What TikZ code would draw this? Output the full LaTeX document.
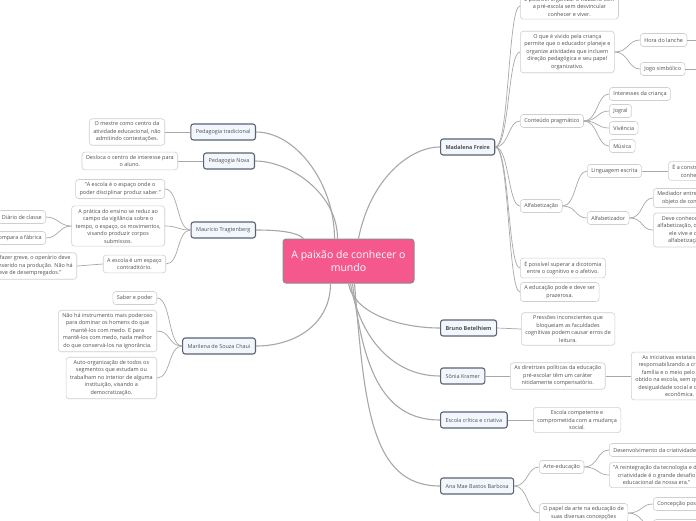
\documentclass[tikz,border=0pt]{standalone}
\usepackage{fontspec}
\setmainfont{Open Sans}
\definecolor{lvborder}{HTML}{5C6370}
\definecolor{lvfill}{HTML}{F2F6FD}
\definecolor{leafborder}{HTML}{CFCFCF}
\definecolor{linkgray}{HTML}{A8A8A8}
\definecolor{txtgray}{HTML}{4F4F4F}
\definecolor{centerfill}{HTML}{F4588C}
\definecolor{centerborder}{HTML}{8C8C8C}
\newcommand\smallfs{\fontsize{5.45}{7.5}\selectfont}
\tikzset{
  lvone/.style={draw=lvborder, fill=lvfill, line width=1.1pt, rounded corners=2.5pt,
    minimum height=16, inner xsep=5, inner ysep=2, font=\smallfs, text=txtgray},
  leaf/.style={draw=leafborder, fill=white, line width=0.6pt, rounded corners=3pt,
    minimum height=13, inner xsep=4, inner ysep=3, align=center, font=\smallfs, text=txtgray},
  link/.style={draw=linkgray, line width=0.7pt},
  clink/.style={draw=linkgray, line width=1.1pt},
}
\begin{document}
\begin{tikzpicture}[x=1pt,y=-1pt]
\useasboundingbox (0,0) rectangle (696,520);
\clip (0,0) rectangle (696,520);
\fill[white] (0,0) rectangle (696,520);

% central
\node[draw=centerborder, fill=centerfill, line width=1pt, rounded corners=3pt,
  minimum width=131, minimum height=44, align=center, text=white,
  font=\fontsize{10.5}{13}\selectfont] (c) at (348.5,261) {A paixão de conhecer o\\mundo};

% left level one
\node[lvone, anchor=east] (pt) at (256,132) {Pedagogia tradicional};
\node[lvone, anchor=east] (pn) at (255,161) {Pedagogia Nova};
\node[lvone, anchor=east] (mt) at (256,230) {Mauricio Tragtenberg};
\node[lvone, anchor=east] (ms) at (256,346) {Marilena de Souza Chaui};

% left leaves
\node[leaf, anchor=east] (pt1) at (165,132) {O mestre como centro da\\atividade educacional, não\\admitindo contestações.};
\node[leaf, anchor=east] (pn1) at (178,161) {Desloca o centro de interesse para\\o aluno.};
\node[leaf, anchor=east] (mt1) at (165,189) {"A escola é o espaço onde o\\poder disciplinar produz saber."};
\node[leaf, anchor=east] (mt2) at (165,226) {A prática do ensino se reduz ao\\campo da vigilância sobre o\\tempo, o espaço, os movimentos,\\visando produzir corpos\\submissos.};
\node[leaf, anchor=east] (mt3) at (166,264) {A escola é um espaço\\contraditório.};
\node[leaf, anchor=east] (mt21) at (46,217) {Diário de classe};
\node[leaf, anchor=east] (mt22) at (46,238) {Compara a fábrica};
\node[leaf, anchor=east] (mt31) at (77,266) {"Para fazer greve, o operário deve\\estar inserido na produção. Não há\\greve de desempregados."};
\node[leaf, anchor=east] (ms1) at (157,298) {Saber e poder};
\node[leaf, anchor=east] (ms2) at (157,331) {Não há instrumento mais poderoso\\para dominar os homens do que\\mantê-los com medo. E para\\mantê-los com medo, nada melhor\\do que conservá-los na ignorância.};
\node[leaf, anchor=east] (ms3) at (157,378) {Auto-organização de todos os\\segmentos que estudam ou\\trabalham no interior de alguma\\instituição, visando a\\democratização.};

% right level one
\node[lvone, anchor=west, font=\smallfs\bfseries] (mf) at (440,147) {Madalena Freire};
\node[lvone, anchor=west, font=\smallfs\bfseries] (bb) at (440,328) {Bruno Betelhiem};
\node[lvone, anchor=west] (sk) at (440,376) {Sônia Kramer};
\node[lvone, anchor=west] (ec) at (440,420) {Escola crítica e criativa};
\node[lvone, anchor=west] (am) at (440,486) {Ana Mae Bastos Barbosa};

% right leaves
\node[leaf, anchor=west] (mf1) at (520,6) {É possível organizar o trabalho com\\a pré-escola sem desvincular\\conhecer e viver.};
\node[leaf, anchor=west] (mf2) at (520,52) {O que é vivido pela criança\\permite que o educador planeje e\\organize atividades que incluem\\direção pedagógica e seu papel\\organizativo.};
\node[leaf, anchor=west] (mf21) at (640,40) {Hora do lanche};
\node[leaf, anchor=west] (mf22) at (640,69) {Jogo simbólico};
\coordinate (mf21x) at (720,40);
\coordinate (mf22x) at (720,69);
\node[leaf, anchor=west] (mf3) at (520,121) {Conteúdo pragmático};
\node[leaf, anchor=west] (mf31) at (609,94) {Interesses da criança};
\node[leaf, anchor=west] (mf32) at (609,111) {Jogral};
\node[leaf, anchor=west] (mf33) at (609,128) {Vivência};
\node[leaf, anchor=west] (mf34) at (609,146) {Música};
\node[leaf, anchor=west] (mf4) at (520,206) {Alfabetização};
\node[leaf, anchor=west] (mf41) at (587,171) {Linguagem escrita};
\node[leaf, anchor=west] (mf411) at (668,171) {É a construção de um\\conhecimento.};
\node[leaf, anchor=west] (mf42) at (587,218) {Alfabetizador};
\node[leaf, anchor=west] (mf421) at (653,198) {Mediador entre a criança e o\\objeto de conhecimento.};
\node[leaf, anchor=west] (mf422) at (653,230) {Deve conhecer o processo de\\alfabetização, o contexto em que\\ele vive e o processo de\\alfabetização da criança.};
\node[leaf, anchor=west] (mf5) at (520,268) {É possível superar a dicotomia\\entre o cognitivo e o afetivo.};
\node[leaf, anchor=west] (mf6) at (520,292) {A educação pode e deve ser\\prazerosa.};
\node[leaf, anchor=west] (bb1) at (521,329) {Pressões inconscientes que\\bloqueiam as faculdades\\cognitivas podem causar erros de\\leitura.};
\node[leaf, anchor=west] (sk1) at (510,376) {As diretrizes políticas da educação\\pré-escolar têm um caráter\\nitidamente compensatório.};
\node[leaf, anchor=west] (sk11) at (631,376) {As iniciativas estatais acabam\\responsabilizando a criança, sua\\família e o meio pelo fracasso\\obtido na escola, sem questionar a\\desigualdade social e cultural da\\econômica.};
\node[leaf, anchor=west] (ec1) at (533,420) {Escola competente e\\comprometida com a mudança\\social.};
\node[leaf, anchor=west] (am1) at (539,467) {Arte-educação};
\node[leaf, anchor=west] (am11) at (609,450) {Desenvolvimento da criatividade};
\node[leaf, anchor=west] (am12) at (609,475) {"A reintegração da tecnologia e da\\criatividade é o grande desafio\\educacional da nossa era."};
\node[leaf, anchor=west] (am2) at (539,513) {O papel da arte na educação de\\suas diversas concepções};
\node[leaf, anchor=west] (am21) at (653,504) {Concepção positivista};
\node[leaf, anchor=west] (am22) at (653,526) {Concepção idealista};

% central links
\draw[clink] ([xshift=-14]c.north) .. controls +(0,-55) and +(40,0) .. (pt.east);
\draw[clink] ([xshift=-11]c.north) .. controls +(0,-45) and +(35,0) .. (pn.east);
\draw[clink] ([xshift=-45]c.north) .. controls +(-6,-6) and +(25,0) .. (mt.east);
\draw[clink] ([xshift=-18]c.south) .. controls +(0,40) and +(40,0) .. (ms.east);
\draw[clink] ([xshift=10]c.north) .. controls +(12,-60) and +(-30,0) .. (mf.west);
\draw[clink] ([xshift=0]c.south) .. controls +(5,30) and +(-40,0) .. (bb.west);
\draw[clink] ([xshift=2]c.south) .. controls +(8,50) and +(-50,0) .. (sk.west);
\draw[clink] ([xshift=4]c.south) .. controls +(10,80) and +(-60,0) .. (ec.west);
\draw[clink] ([xshift=6]c.south) .. controls +(10,120) and +(-70,0) .. (am.west);

% left links
\draw[link] (pt.west) -- (pt1.east);
\draw[link] (pn.west) -- (pn1.east);
\foreach \k in {mt1,mt2,mt3} \draw[link] (mt.west) .. controls +(-14,0) and +(14,0) .. (\k.east);
\foreach \k in {mt21,mt22} \draw[link] (mt2.west) .. controls +(-12,0) and +(12,0) .. (\k.east);
\draw[link] (mt3.west) -- (mt31.east);
\foreach \k in {ms1,ms2,ms3} \draw[link] (ms.west) .. controls +(-14,0) and +(14,0) .. (\k.east);

% right links
\foreach \k in {mf1,mf2,mf3,mf4,mf5,mf6} \draw[link] (mf.east) .. controls +(14,0) and +(-12,0) .. (\k.west);
\foreach \k in {mf21,mf22} \draw[link] (mf2.east) .. controls +(14,0) and +(-12,0) .. (\k.west);
\draw[link] (mf21.east) -- (mf21x);
\draw[link] (mf22.east) -- (mf22x);
\foreach \k in {mf31,mf32,mf33,mf34} \draw[link] (mf3.east) .. controls +(14,0) and +(-12,0) .. (\k.west);
\foreach \k in {mf41,mf42} \draw[link] (mf4.east) .. controls +(14,0) and +(-12,0) .. (\k.west);
\draw[link] (mf41.east) -- (mf411.west);
\foreach \k in {mf421,mf422} \draw[link] (mf42.east) .. controls +(14,0) and +(-12,0) .. (\k.west);
\draw[link] (bb.east) -- (bb1.west);
\draw[link] (sk.east) -- (sk1.west);
\draw[link] (sk1.east) -- (sk11.west);
\draw[link] (ec.east) -- (ec1.west);
\foreach \k in {am1,am2} \draw[link] (am.east) .. controls +(14,0) and +(-12,0) .. (\k.west);
\foreach \k in {am11,am12} \draw[link] (am1.east) .. controls +(14,0) and +(-12,0) .. (\k.west);
\foreach \k in {am21,am22} \draw[link] (am2.east) .. controls +(14,0) and +(-12,0) .. (\k.west);
\end{tikzpicture}
\end{document}
